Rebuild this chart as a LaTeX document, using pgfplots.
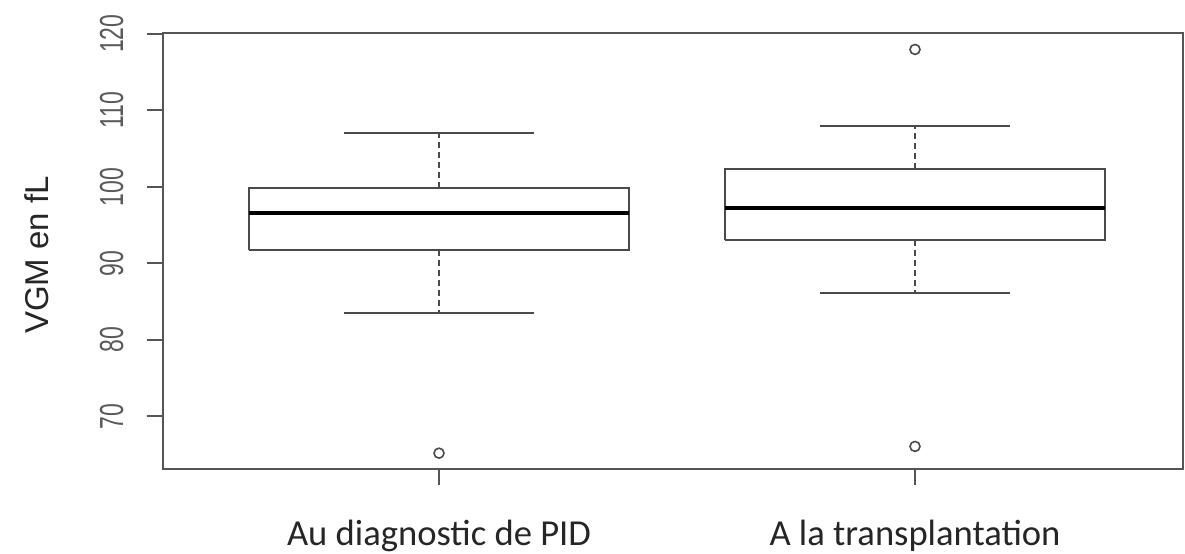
\documentclass[border=0pt]{standalone}
\usepackage{fontspec}
\setmainfont{Liberation Sans}
\newfontfamily\calibri{Carlito}
\usepackage{pgfplots}
\pgfplotsset{compat=1.18}
\definecolor{axgrey}{HTML}{555555}
\definecolor{boxgrey}{HTML}{4A4A4A}
\definecolor{txtgrey}{HTML}{5A5A5A}
\definecolor{lbldark}{HTML}{262626}
\begin{document}
\begin{tikzpicture}
\begin{axis}[
  scale only axis,
  width=510.15pt, height=218pt,
  xmin=0.4195, xmax=2.563,
  ymin=63.09, ymax=120.06,
  axis line style={axgrey, line width=1pt},
  tick style={axgrey, line width=1pt},
  tick align=outside,
  major tick length=8pt,
  xtick={1,2},
  xticklabels={Au diagnostic de PID, A la transplantation},
  xtick pos=bottom,
  ytick={70,80,90,100,110,120},
  ytick pos=left,
  /pgf/number format/assume math mode=true,
  yticklabel style={font=\fontsize{11.5}{13}\selectfont, text=txtgrey, xshift=-6.5pt, rotate=90, anchor=south, yscale=1.45},
  xticklabel style={font=\calibri\fontsize{18.3}{22}\selectfont, text=lbldark, anchor=base, yshift=-30pt},
  ylabel={VGM en fL},
  every axis y label/.style={at={(axis description cs:-0.1232,0.5)}, anchor=center, yshift=-1.85pt, rotate=90, font=\fontsize{16.5}{19}\selectfont, text=lbldark},
  clip=false,
]
% box 1
\addplot[boxgrey, line width=1pt, mark=none] coordinates {(0.6,91.69) (1.4,91.69) (1.4,99.88) (0.6,99.88) (0.6,91.69)};
\addplot[black, line width=2pt, mark=none] coordinates {(0.6,96.56) (1.4,96.56)};
\addplot[boxgrey, line width=1pt, dash pattern=on 3pt off 2pt, mark=none] coordinates {(1,99.88) (1,107.07)};
\addplot[boxgrey, line width=1pt, dash pattern=on 3pt off 2pt, mark=none] coordinates {(1,91.69) (1,83.5)};
\addplot[boxgrey, line width=1pt, mark=none] coordinates {(0.8,107.07) (1.2,107.07)};
\addplot[boxgrey, line width=1pt, mark=none] coordinates {(0.8,83.5) (1.2,83.5)};
\addplot[only marks, mark=o, mark size=2.5pt, mark options={boxgrey, line width=0.8pt}] coordinates {(1,65.2)};
% box 2
\addplot[boxgrey, line width=1pt, mark=none] coordinates {(1.6,93.0) (2.4,93.0) (2.4,102.36) (1.6,102.36) (1.6,93.0)};
\addplot[black, line width=2pt, mark=none] coordinates {(1.6,97.21) (2.4,97.21)};
\addplot[boxgrey, line width=1pt, dash pattern=on 3pt off 2pt, mark=none] coordinates {(2,102.36) (2,108.0)};
\addplot[boxgrey, line width=1pt, dash pattern=on 3pt off 2pt, mark=none] coordinates {(2,93.0) (2,86.16)};
\addplot[boxgrey, line width=1pt, mark=none] coordinates {(1.8,108.0) (2.2,108.0)};
\addplot[boxgrey, line width=1pt, mark=none] coordinates {(1.8,86.16) (2.2,86.16)};
\addplot[only marks, mark=o, mark size=2.5pt, mark options={boxgrey, line width=0.8pt}] coordinates {(2,117.95) (2,66.08)};
\end{axis}
\pgfresetboundingbox
\useasboundingbox (-81.35pt,-41.85pt) rectangle (511.15pt,234.65pt);
\end{tikzpicture}
\end{document}
